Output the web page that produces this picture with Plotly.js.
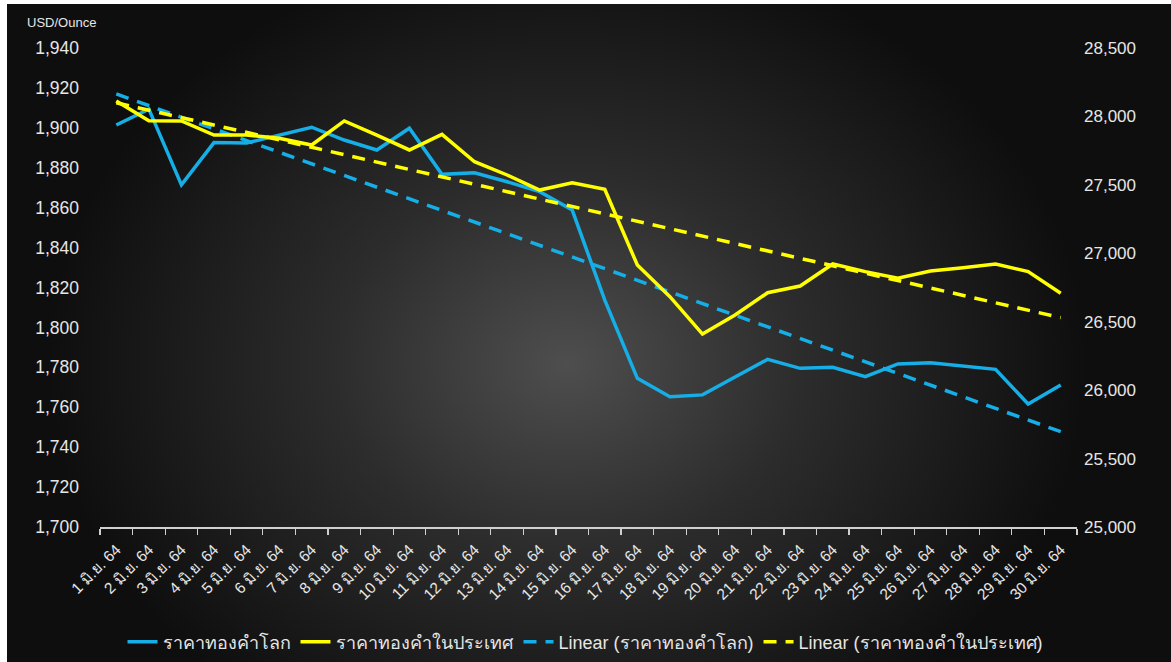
<!DOCTYPE html>
<html>
<head>
<meta charset="utf-8">
<script src="https://cdn.plot.ly/plotly-3.0.1.min.js"></script>
<style>
  html, body { margin: 0; padding: 0; background: #ffffff; width: 1171px; height: 662px; overflow: hidden; }
  #bg { position: absolute; left: 7px; top: 4px; width: 1164px; height: 658px;
        background: radial-gradient(ellipse 520px 420px at 560px 360px, #4e4e4e 0%, #2c2c2c 45%, #0e0e0e 100%); }
  #chart { position: absolute; left: 0; top: 0; width: 1171px; height: 662px; }
</style>
</head>
<body>
<div id="bg"></div>
<div id="chart"></div>
<script>
// ---- Data ----
const categories = [
  "1 มิ.ย. 64","2 มิ.ย. 64","3 มิ.ย. 64","4 มิ.ย. 64","5 มิ.ย. 64","6 มิ.ย. 64",
  "7 มิ.ย. 64","8 มิ.ย. 64","9 มิ.ย. 64","10 มิ.ย. 64","11 มิ.ย. 64","12 มิ.ย. 64",
  "13 มิ.ย. 64","14 มิ.ย. 64","15 มิ.ย. 64","16 มิ.ย. 64","17 มิ.ย. 64","18 มิ.ย. 64",
  "19 มิ.ย. 64","20 มิ.ย. 64","21 มิ.ย. 64","22 มิ.ย. 64","23 มิ.ย. 64","24 มิ.ย. 64",
  "25 มิ.ย. 64","26 มิ.ย. 64","27 มิ.ย. 64","28 มิ.ย. 64","29 มิ.ย. 64","30 มิ.ย. 64"
];
// World gold price (USD/Ounce, left axis)
const worldPrice = [
  1901.4, 1909.4, 1871.4, 1892.6, 1892.4, 1896.5, 1900.3, 1893.9, 1888.9, 1899.8,
  1876.7, 1877.5, 1873.0, 1868.0, 1858.8, 1813.7, 1774.5, 1765.3, 1766.2, 1775.2,
  1784.0, 1779.5, 1780.0, 1775.3, 1781.7, 1782.3, 1780.8, 1779.0, 1761.6, 1771.2
];
// Thai gold price (THB, right axis)
const thaiPrice = [
  28113, 27969, 27967, 27864, 27864, 27840, 27791, 27967, 27864, 27755,
  27869, 27669, 27572, 27462, 27516, 27467, 26914, 26683, 26410, 26549,
  26712, 26761, 26922, 26866, 26817, 26871, 26895, 26922, 26866, 26708
];
const seriesNames = ["ราคาทองคำโลก", "ราคาทองคำในประเทศ", "Linear (ราคาทองคำโลก)", "Linear (ราคาทองคำในประเทศ)"];
const leftTicks = [1700, 1720, 1740, 1760, 1780, 1800, 1820, 1840, 1860, 1880, 1900, 1920, 1940];
const rightTicks = [25000, 25500, 26000, 26500, 27000, 27500, 28000, 28500];

// Least-squares linear trend (as a spreadsheet "Linear" trendline)
function linearTrend(vals) {
  const n = vals.length;
  let sx = 0, sy = 0, sxx = 0, sxy = 0;
  vals.forEach((v, i) => { const x = i + 1; sx += x; sy += v; sxx += x * x; sxy += x * v; });
  const b = (n * sxy - sx * sy) / (n * sxx - sx * sx);
  const a = (sy - b * sx) / n;
  return vals.map((_, i) => a + b * (i + 1));
}

const BLUE = "#16aee6";
const YELLOW = "#ffff00";
const FONT = "Helvetica Neue, Liberation Sans, Arial, Noto Sans, sans-serif";

const traces = [
  { x: categories, y: worldPrice, name: seriesNames[0], type: "scatter", mode: "lines",
    line: { color: BLUE, width: 3.5 }, yaxis: "y", legendrank: 1 },
  { x: categories, y: linearTrend(worldPrice), name: seriesNames[2], type: "scatter", mode: "lines",
    line: { color: BLUE, width: 3.5, dash: "13px,9px" }, yaxis: "y", legendrank: 3 },
  { x: categories, y: thaiPrice, name: seriesNames[1], type: "scatter", mode: "lines",
    line: { color: YELLOW, width: 3.5 }, yaxis: "y2", legendrank: 2 },
  { x: categories, y: linearTrend(thaiPrice), name: seriesNames[3], type: "scatter", mode: "lines",
    line: { color: YELLOW, width: 3.5, dash: "13px,9px" }, yaxis: "y2", legendrank: 4 }
];

const layout = {
  width: 1171, height: 662,
  paper_bgcolor: "rgba(0,0,0,0)", plot_bgcolor: "rgba(0,0,0,0)",
  margin: { l: 100, r: 94, t: 48, b: 135, autoexpand: false },
  font: { family: FONT, color: "#e6e6e6", size: 16 },
  showlegend: true,
  legend: { orientation: "h", x: 0.5, xref: "container", xanchor: "center",
            y: 0.058, yref: "container", yanchor: "top",
            font: { size: 18, color: "#e6e6e6" }, bgcolor: "rgba(0,0,0,0)", traceorder: "normal",
            itemwidth: 30 },
  xaxis: {
    type: "category", range: [-0.5, 29.5], tickangle: -45, automargin: false,
    tickfont: { size: 15.5, color: "#e6e6e6" }, ticklabelstandoff: 6,
    showline: true, linecolor: "#d0d0d0", linewidth: 1.5,
    ticks: "outside", tickson: "boundaries", ticklen: 6, tickcolor: "#d0d0d0", tickwidth: 1.2,
    showgrid: false, zeroline: false
  },
  yaxis: {
    range: [1700, 1940], tickvals: leftTicks, tickformat: ",d", automargin: false,
    showgrid: false, zeroline: false, showline: false, ticks: "",
    tickfont: { size: 17.5, color: "#e6e6e6" }, ticklabelstandoff: 20
  },
  yaxis2: {
    overlaying: "y", side: "right", range: [25000, 28500], tickvals: rightTicks, tickformat: ",d",
    automargin: false,
    showgrid: false, zeroline: false, showline: false, ticks: "",
    tickfont: { size: 17, color: "#e6e6e6" }, ticklabelstandoff: 6
  },
  annotations: [
    { text: "USD/Ounce", xref: "paper", yref: "paper", x: -0.077, y: 1.054,
      xanchor: "left", yanchor: "middle", showarrow: false,
      font: { size: 13, color: "#e6e6e6", family: FONT } }
  ]
};

Plotly.newPlot("chart", traces, layout, { displayModeBar: false, staticPlot: true });
</script>
</body>
</html>
